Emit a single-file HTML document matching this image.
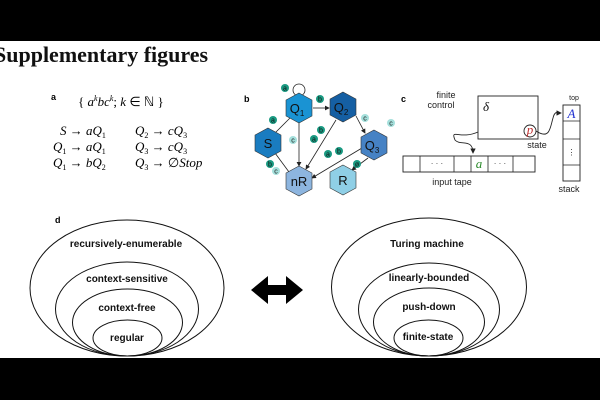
<!DOCTYPE html>
<html><head><style>
body{margin:0;width:600px;height:400px;overflow:hidden;background:#fff}
svg{display:block}
.m{font-family:"Liberation Serif",serif;font-style:italic;font-size:13px}
.s{font-family:"Liberation Sans",sans-serif}
</style></head><body>
<svg width="600" height="400" viewBox="0 0 600 400" xmlns="http://www.w3.org/2000/svg">
<rect x="0" y="0" width="600" height="41" fill="#000"/>
<rect x="0" y="358" width="600" height="42" fill="#000"/>
<text x="-6" y="62" font-family="Liberation Serif,serif" font-size="22" font-weight="bold" fill="#111">Supplementary figures</text>
<!-- a -->
<text x="51" y="100" class="s" font-size="9" font-weight="bold">a</text>
<g font-family="Liberation Serif,serif" font-size="13">
<text x="78" y="106">{ <tspan font-style="italic">a</tspan><tspan font-style="italic" font-size="8" dy="-5">k</tspan><tspan font-style="italic" dy="5">bc</tspan><tspan font-style="italic" font-size="8" dy="-5">k</tspan><tspan dy="5">; </tspan><tspan font-style="italic">k</tspan> ∈ ℕ }</text>
<text x="60" y="135"><tspan font-style="italic">S</tspan> → <tspan font-style="italic">aQ</tspan><tspan font-size="8" dy="3">1</tspan></text>
<text x="53" y="151"><tspan font-style="italic">Q</tspan><tspan font-size="8" dy="3">1</tspan><tspan dy="-3"> → </tspan><tspan font-style="italic">aQ</tspan><tspan font-size="8" dy="3">1</tspan></text>
<text x="53" y="167"><tspan font-style="italic">Q</tspan><tspan font-size="8" dy="3">1</tspan><tspan dy="-3"> → </tspan><tspan font-style="italic">bQ</tspan><tspan font-size="8" dy="3">2</tspan></text>
<text x="135" y="135"><tspan font-style="italic">Q</tspan><tspan font-size="8" dy="3">2</tspan><tspan dy="-3"> → </tspan><tspan font-style="italic">cQ</tspan><tspan font-size="8" dy="3">3</tspan></text>
<text x="135" y="151"><tspan font-style="italic">Q</tspan><tspan font-size="8" dy="3">3</tspan><tspan dy="-3"> → </tspan><tspan font-style="italic">cQ</tspan><tspan font-size="8" dy="3">3</tspan></text>
<text x="135" y="167"><tspan font-style="italic">Q</tspan><tspan font-size="8" dy="3">3</tspan><tspan dy="-3"> → ∅</tspan><tspan font-style="italic">Stop</tspan></text>
</g>
<!-- b -->
<text x="244" y="102" class="s" font-size="9" font-weight="bold">b</text>
<defs><marker id="ar" markerWidth="6" markerHeight="6" refX="5" refY="3" orient="auto"><path d="M0,0 L6,3 L0,6z" fill="#222"/></marker></defs>
<g stroke="#222" stroke-width="0.8" fill="none">
<circle cx="299" cy="90" r="6"/>
<line x1="313" y1="108" x2="329" y2="108" marker-end="url(#ar)"/>
<line x1="356" y1="116" x2="365" y2="133" marker-end="url(#ar)"/>
<line x1="275" y1="133" x2="291" y2="117"/>
<line x1="275" y1="153" x2="289" y2="172"/>
<line x1="299" y1="122" x2="299" y2="166" marker-end="url(#ar)"/>
<line x1="336" y1="120" x2="306" y2="169" marker-end="url(#ar)"/>
<line x1="362" y1="148" x2="312" y2="178" marker-end="url(#ar)"/>
<line x1="368" y1="158" x2="352" y2="170" marker-end="url(#ar)"/>
</g>
<g stroke="#333" stroke-width="0.6">
<polygon points="299,93 312,100 312,116 299,123 286,116 286,100" fill="#1a93d3"/>
<polygon points="343,92 356,99 356,115 343,122 330,115 330,99" fill="#155fa3"/>
<polygon points="268,128 281,135 281,151 268,158 255,151 255,135" fill="#1a7cc0"/>
<polygon points="374,130 387,137 387,153 374,160 361,153 361,137" fill="#4682c4"/>
<polygon points="299,166 312,173 312,189 299,196 286,189 286,173" fill="#8db5df"/>
<polygon points="343,165 356,172 356,188 343,195 330,188 330,172" fill="#8fcfe6"/>
</g>
<g class="s" font-size="13" text-anchor="middle" fill="#111">
<text x="297" y="113">Q<tspan font-size="8" dy="3">1</tspan></text>
<text x="341" y="112">Q<tspan font-size="8" dy="3">2</tspan></text>
<text x="268" y="148">S</text>
<text x="372" y="150">Q<tspan font-size="8" dy="3">3</tspan></text>
<text x="299" y="186">nR</text>
<text x="343" y="185">R</text>
</g>
<g class="s" font-size="7" text-anchor="middle">
<g fill="#1a9a82"><circle cx="285" cy="88" r="4"/><circle cx="320" cy="99" r="4"/><circle cx="273" cy="120" r="4"/><circle cx="321" cy="130" r="4"/><circle cx="314" cy="139" r="4"/><circle cx="328" cy="154" r="4"/><circle cx="339" cy="151" r="4"/><circle cx="270" cy="164" r="4"/><circle cx="357" cy="164" r="4"/></g>
<g fill="#a5e0dc"><circle cx="293" cy="140" r="4"/><circle cx="276" cy="171" r="4"/><circle cx="365" cy="118" r="4"/><circle cx="391" cy="123" r="4"/></g>
<g fill="#111"><text x="285" y="90.5">a</text><text x="320" y="101.5">b</text><text x="273" y="122.5">a</text><text x="321" y="132.5">b</text><text x="314" y="141.5">a</text><text x="328" y="156.5">a</text><text x="339" y="153.5">b</text><text x="270" y="166.5">b</text><text x="357" y="166.5">ø</text><text x="293" y="142.5">c</text><text x="276" y="173.5">c</text><text x="365" y="120.5">c</text><text x="391" y="125.5">c</text></g>
</g>
<!-- c -->
<text x="401" y="102" class="s" font-size="9" font-weight="bold">c</text>
<g class="s" font-size="9" fill="#222">
<text x="446" y="98" text-anchor="middle">finite</text>
<text x="441" y="108" text-anchor="middle">control</text>
<text x="537" y="148" text-anchor="middle">state</text>
<text x="452" y="185" text-anchor="middle">input tape</text>
<text x="569" y="192" text-anchor="middle">stack</text>
<text x="574" y="100" font-size="7" text-anchor="middle">top</text>
</g>
<g stroke="#222" stroke-width="0.9" fill="#fff">
<rect x="478" y="96" width="60" height="43"/>
<circle cx="530" cy="131" r="6"/>
<rect x="403" y="156" width="132" height="16"/>
<rect x="563" y="105" width="17" height="76"/>
</g>
<g stroke="#222" stroke-width="0.8">
<line x1="420" y1="156" x2="420" y2="172"/><line x1="454" y1="156" x2="454" y2="172"/><line x1="471" y1="156" x2="471" y2="172"/><line x1="488" y1="156" x2="488" y2="172"/><line x1="513" y1="156" x2="513" y2="172"/>
<line x1="563" y1="121" x2="580" y2="121"/><line x1="563" y1="139" x2="580" y2="139"/><line x1="563" y1="165" x2="580" y2="165"/>
</g>
<g stroke="#222" stroke-width="0.9" fill="none">
<path d="M478,132 C460,140 450,128 455,140 C460,146 473,138 473,153" marker-end="url(#ar)"/>
<path d="M536,131 C550,140 550,128 553,118 C555,110 558,113 561,113" marker-end="url(#ar)"/>
</g>
<text x="483" y="111" class="m" fill="#111">δ</text>
<text x="530" y="134" class="m" font-size="11" fill="#c03030" text-anchor="middle">p</text>
<text x="479" y="168" class="m" font-size="11" fill="#2a8a2a" text-anchor="middle">a</text>
<text x="571.5" y="118" class="m" font-size="11" fill="#2030d0" text-anchor="middle">A</text>
<g class="s" font-size="8" fill="#333" text-anchor="middle"><text x="437" y="166">· · ·</text><text x="500" y="166">· · ·</text><text x="571.5" y="155">⋮</text></g>
<!-- d -->
<text x="55" y="223" class="s" font-size="9" font-weight="bold">d</text>
<g stroke="#111" stroke-width="1" fill="none">
<ellipse cx="127" cy="288" rx="97" ry="68"/>
<ellipse cx="127" cy="309" rx="71.5" ry="47"/>
<ellipse cx="127.5" cy="322.5" rx="55" ry="33.5"/>
<ellipse cx="127.5" cy="338" rx="34.5" ry="18"/>
<ellipse cx="429" cy="287" rx="97.5" ry="69"/>
<ellipse cx="429" cy="309.5" rx="70.5" ry="46.5"/>
<ellipse cx="429" cy="322" rx="55.5" ry="34"/>
<ellipse cx="428.5" cy="338" rx="34.5" ry="18"/>
</g>
<g class="s" font-size="10" font-weight="bold" text-anchor="middle" fill="#111">
<text x="126" y="247">recursively-enumerable</text>
<text x="127" y="282">context-sensitive</text>
<text x="127" y="311">context-free</text>
<text x="127" y="341">regular</text>
<text x="427" y="247">Turing machine</text>
<text x="429" y="281">linearly-bounded</text>
<text x="429" y="310">push-down</text>
<text x="428" y="340">finite-state</text>
</g>
<path d="M251,290 L268,276 L268,285 L286,285 L286,276 L303,290 L286,304 L286,295 L268,295 L268,304Z" fill="#000"/>
</svg>
</body></html>
